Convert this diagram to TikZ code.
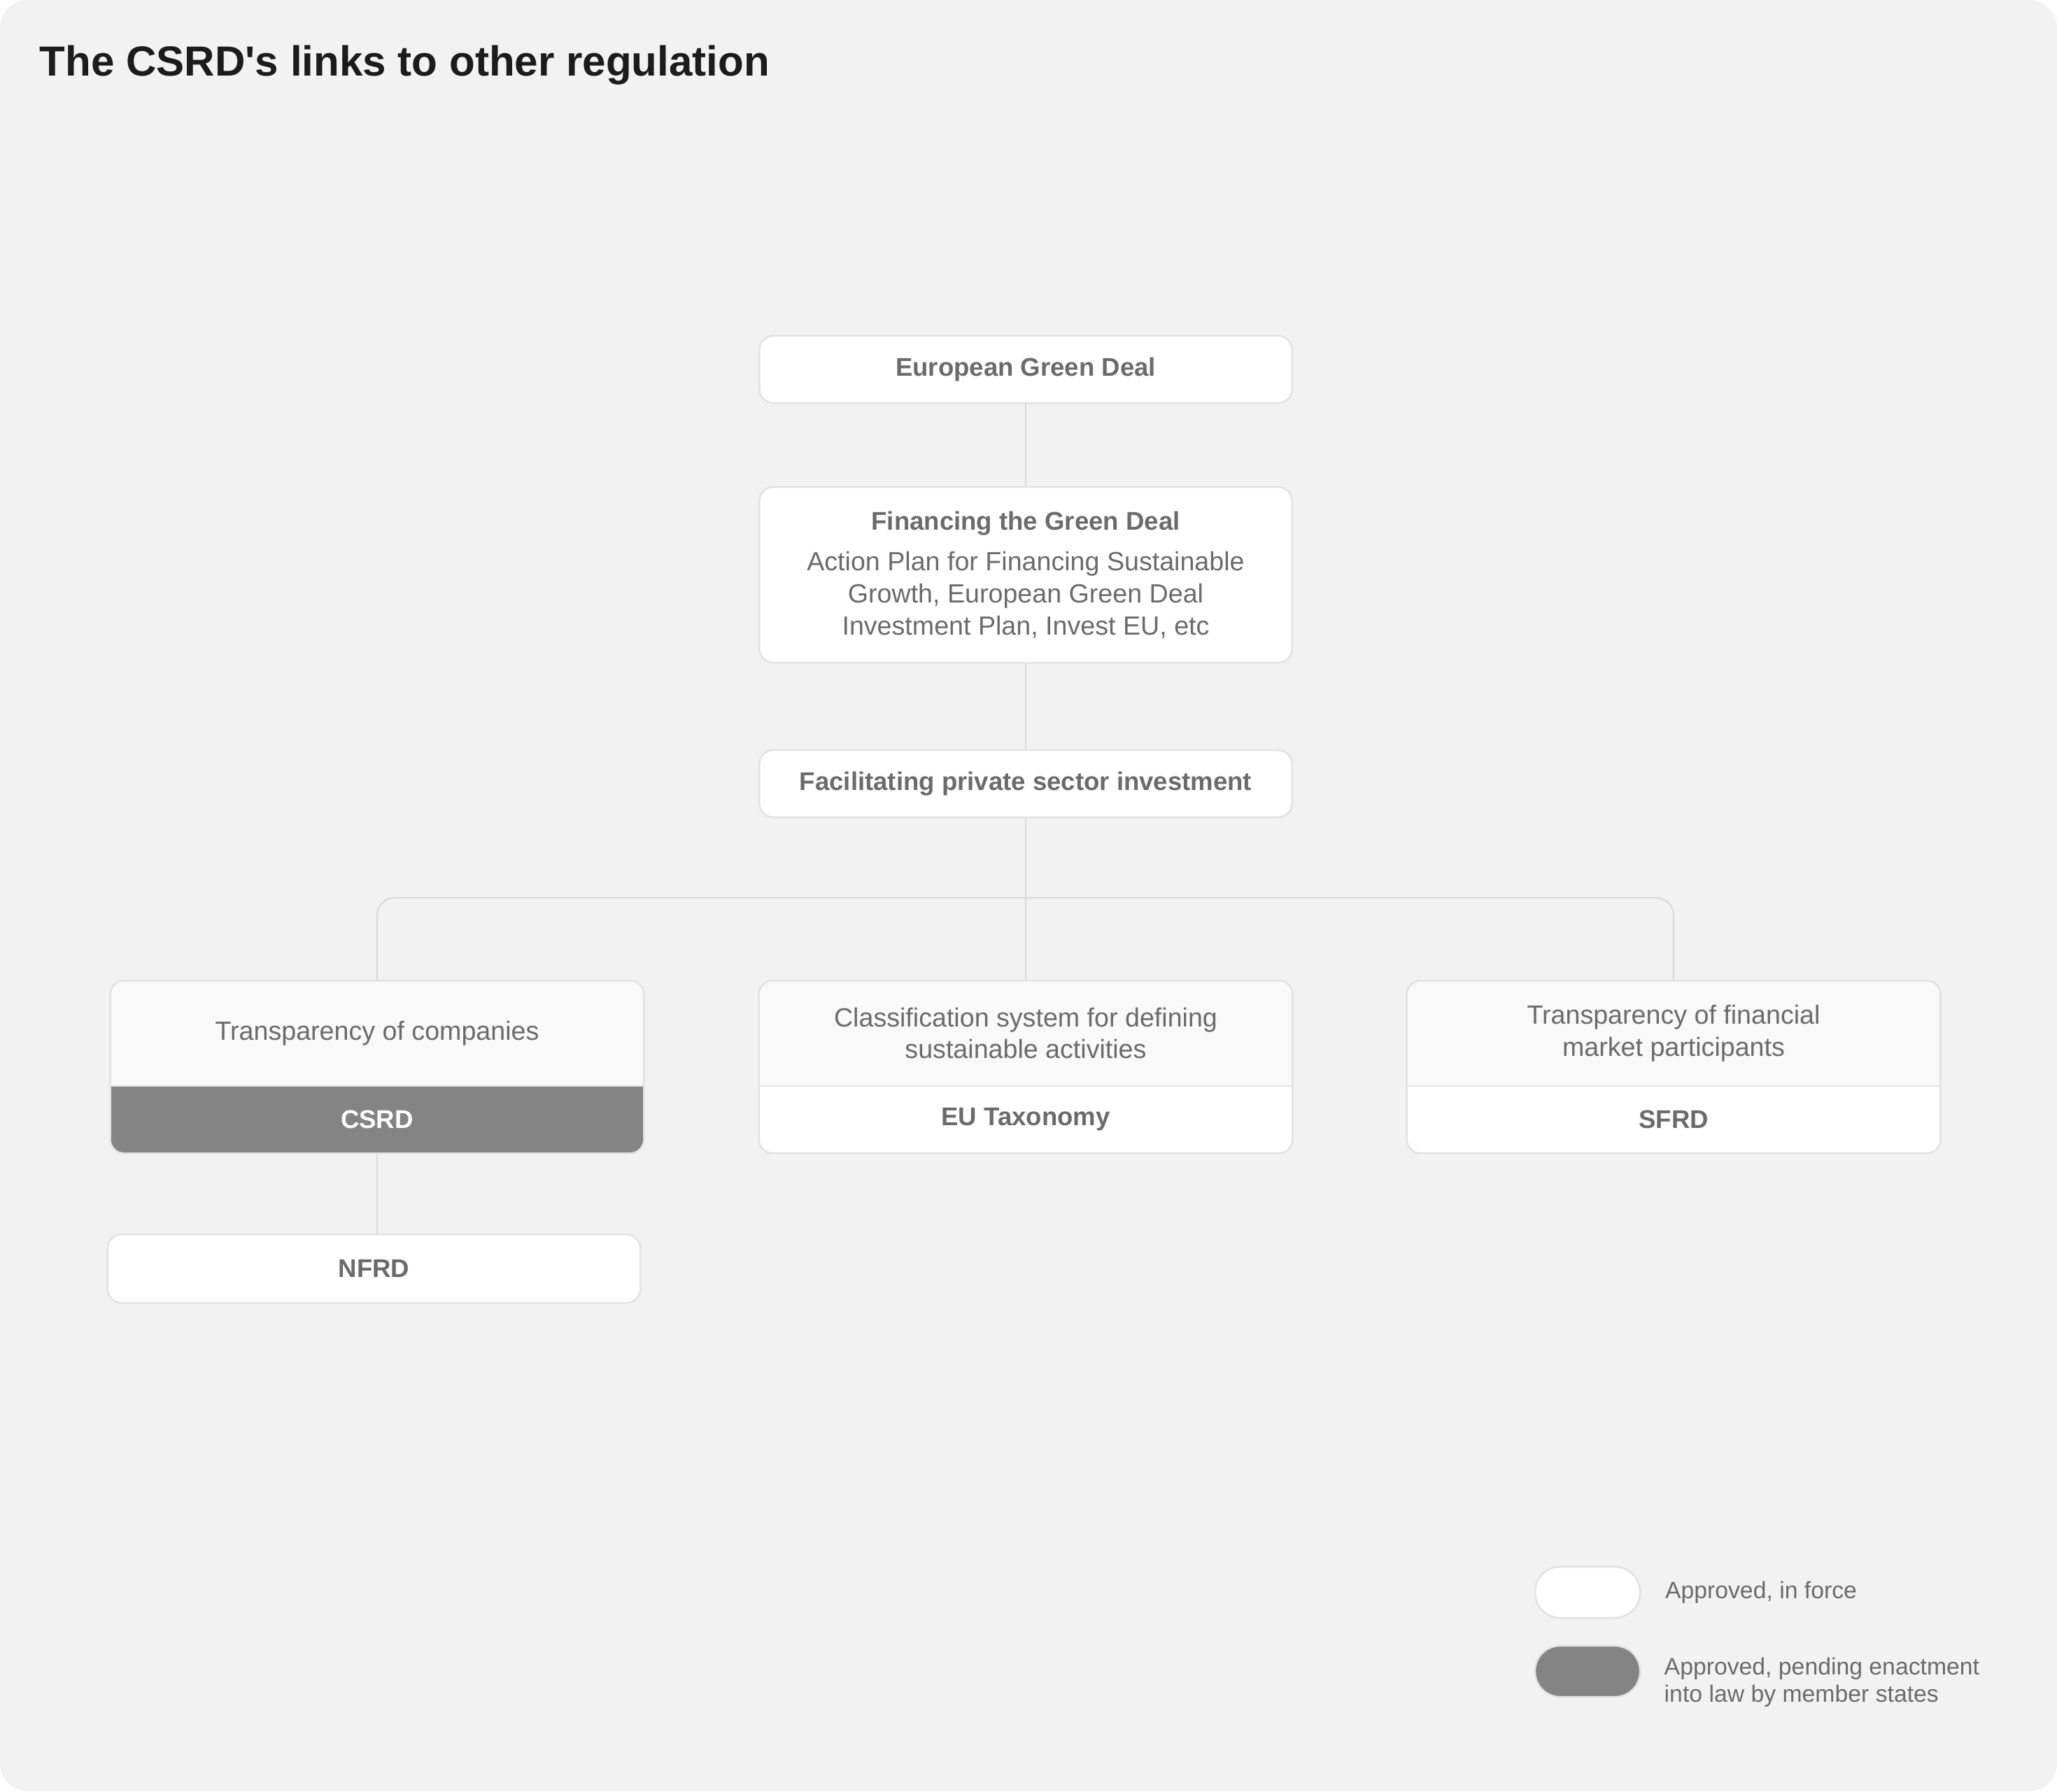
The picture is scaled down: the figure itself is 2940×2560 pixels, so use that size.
\documentclass[tikz,border=0pt]{standalone}
\usepackage{fontspec}
\setmainfont{Liberation Sans}
\usetikzlibrary{positioning,backgrounds}

\definecolor{bggray}{HTML}{F2F2F2}
\definecolor{boxline}{HTML}{E2E2E2}
\definecolor{linkgray}{HTML}{DADADA}
\definecolor{txt}{HTML}{6B6B6B}
\definecolor{toptint}{HTML}{F9F9F9}
\definecolor{pend}{HTML}{848484}
\definecolor{titletxt}{HTML}{1C1C1C}

\tikzset{
  box/.style={draw=boxline, line width=0.7pt, fill=white, rounded corners=2mm,
    minimum width=7.61cm, text=txt, align=center},
  part/.style={minimum width=7.61cm, text=txt, align=center},
  bold/.style={font=\fontsize{10.4}{13}\selectfont\bfseries},
  plain/.style={font=\fontsize{10.7}{13}\selectfont},
  link/.style={draw=linkgray, line width=0.6pt},
  pill/.style={draw=boxline, line width=0.7pt, minimum width=1.5cm,
    minimum height=0.73cm, rounded corners=3.6mm},
  legtxt/.style={text=txt, align=left, anchor=west,
    font=\fontsize{9.6}{11.2}\selectfont}
}

\begin{document}
\begin{tikzpicture}[x=0.01cm, y=-0.01cm, inner sep=0pt]
	\node[anchor=base west, text=titletxt, font=\fontsize{17.1}{20}\selectfont\bfseries]
		(title) at (56,108) {The CSRD\textquotesingle s links to other regulation};

	\node[box, bold, minimum height=0.96cm] (egd)  at (1466,528) {European Green Deal};
	\node[box, plain, minimum height=2.51cm] (fgd) at (1466,821.5)
		{{\bfseries\fontsize{10.4}{13}\selectfont Financing the Green Deal}\\[3.6pt]
		Action Plan for Financing Sustainable\\
		Growth, European Green Deal\\
		Investment Plan, Invest EU, etc};
	\node[box, bold, minimum height=0.96cm] (fpsi) at (1466,1120) {Facilitating private sector investment};

	% split boxes: upper part + lower part
	\node[part, plain, minimum height=1.49cm] (comp) at (539,1476.5) {Transparency of companies};
	\node[part, bold, minimum height=0.95cm, text=white, below=0pt of comp] (csrd) {CSRD};
	\node[part, plain, minimum height=1.49cm] (clas) at (1466,1476.5)
		{Classification system for defining\\sustainable activities};
	\node[part, bold, minimum height=0.95cm, below=0pt of clas] (tax) {EU Taxonomy};
	\node[part, plain, minimum height=1.49cm] (fin) at (2392,1476.5)
		{Transparency of financial\\market participants};
	\node[part, bold, minimum height=0.95cm, below=0pt of fin] (sfrd) {SFRD};

	\node[box, bold, minimum height=0.98cm] (nfrd) at (534.5,1813) {NFRD};

	\begin{scope}[on background layer]
		\fill[bggray, rounded corners=4mm] (0,0) rectangle (2940,2560);
		\foreach \t/\b/\f in {comp/csrd/pend, clas/tax/white, fin/sfrd/white}{
			\begin{scope}
				\clip[rounded corners=2mm] (\t.north west) rectangle (\b.south east);
				\fill[toptint] (\t.north west) rectangle (\t.south east);
				\fill[\f] (\b.north west) rectangle (\b.south east);
			\end{scope}
			\draw[boxline, line width=0.7pt] (\t.south west) -- (\t.south east);
			\draw[boxline, line width=0.7pt, rounded corners=2mm] (\t.north west) rectangle (\b.south east);
		}
	\end{scope}

	\coordinate (bus) at (1466,1283);
	\draw[link] (egd.south) -- (fgd.north);
	\draw[link] (fgd.south) -- (fpsi.north);
	\draw[link] (fpsi.south) -- (clas.north);
	\draw[link, rounded corners=2.5mm] (comp.north) |- (bus) -| (fin.north);
	\draw[link] (csrd.south) -- (csrd.south |- nfrd.north);

	% legend
	\node[pill, fill=white] (inforce) at (2269,2275.5) {};
	\node[pill, fill=pend] (pending) at (2269,2388.5) {};
	\node[legtxt, right=0.34cm of inforce] (inforcetxt) {Approved, in force};
	\node[legtxt] (pendingtxt) at (2378,2404)
		{Approved, pending enactment\\into law by member states};
\end{tikzpicture}
\end{document}
